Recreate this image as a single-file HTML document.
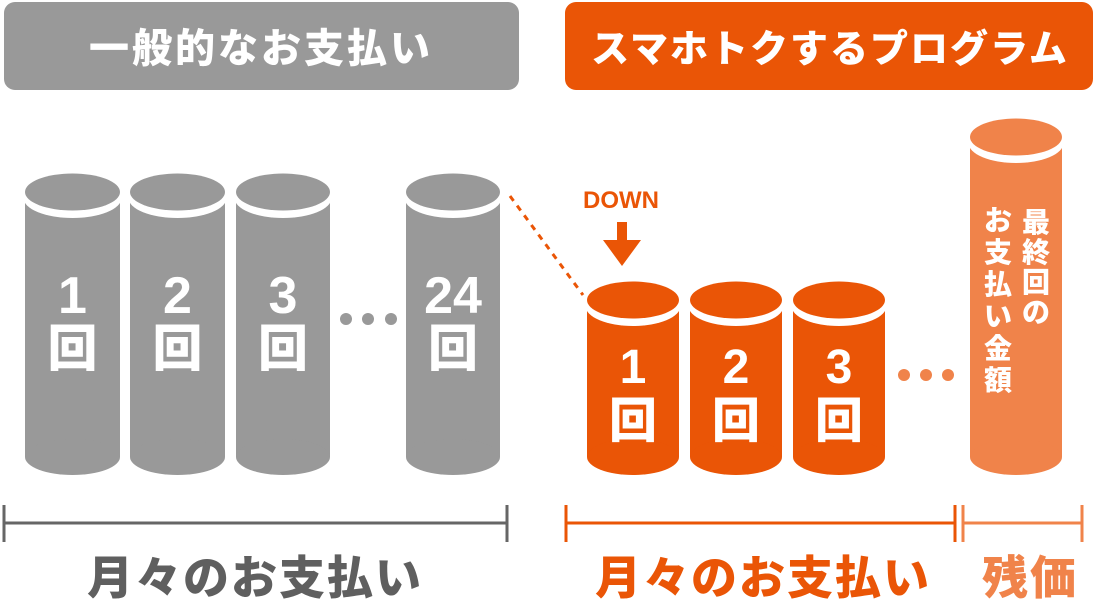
<!DOCTYPE html>
<html><head><meta charset="utf-8"><style>
html,body{margin:0;padding:0;background:#fff;}
svg{display:block;}
text{font-family:"Liberation Sans","Noto Sans CJK JP",sans-serif;font-weight:bold;}
.j{font-family:"Noto Sans CJK JP","Liberation Sans",sans-serif;font-weight:900;}
</style></head><body>
<svg width="1095" height="599" viewBox="0 0 1095 599" xmlns="http://www.w3.org/2000/svg">
<!-- headers -->
<rect x="4" y="2" width="515" height="88" rx="11" fill="#999"/>
<text x="261" y="62" class="j" font-size="40" fill="#fff" text-anchor="middle" letter-spacing="3">一般的なお支払い</text>
<rect x="565" y="2" width="528" height="88" rx="11" fill="#ea5506"/>
<text x="830" y="62" class="j" font-size="38" fill="#fff" text-anchor="middle" letter-spacing="2">スマホトクするプログラム</text>

<!-- gray cylinders -->
<g fill="#999">
  <g>
    <rect x="25" y="197" width="95" height="260"/><ellipse cx="72.5" cy="457" rx="47.5" ry="18"/>
    <ellipse cx="72.5" cy="198" rx="49" ry="20" fill="#fff"/><ellipse cx="72.5" cy="192" rx="47.5" ry="18.5"/>
  </g>
  <g>
    <rect x="130" y="197" width="95" height="260"/><ellipse cx="177.5" cy="457" rx="47.5" ry="18"/>
    <ellipse cx="177.5" cy="198" rx="49" ry="20" fill="#fff"/><ellipse cx="177.5" cy="192" rx="47.5" ry="18.5"/>
  </g>
  <g>
    <rect x="236" y="197" width="94" height="260"/><ellipse cx="283" cy="457" rx="47" ry="18"/>
    <ellipse cx="283" cy="198" rx="48.5" ry="20" fill="#fff"/><ellipse cx="283" cy="192" rx="47" ry="18.5"/>
  </g>
  <g>
    <rect x="406" y="197" width="94" height="260"/><ellipse cx="453" cy="457" rx="47" ry="18"/>
    <ellipse cx="453" cy="198" rx="48.5" ry="20" fill="#fff"/><ellipse cx="453" cy="192" rx="47" ry="18.5"/>
  </g>
  <circle cx="346" cy="319" r="6"/><circle cx="368" cy="319" r="6"/><circle cx="391" cy="319" r="6"/>
</g>
<g fill="#fff" text-anchor="middle">
  <text x="72.5" y="313" font-size="52">1</text><text x="72.5" y="366" class="j" font-size="50">回</text>
  <text x="177.5" y="313" font-size="52">2</text><text x="177.5" y="366" class="j" font-size="50">回</text>
  <text x="283" y="313" font-size="52">3</text><text x="283" y="366" class="j" font-size="50">回</text>
  <text x="453" y="313" font-size="52">24</text><text x="453" y="366" class="j" font-size="50">回</text>
</g>

<!-- dotted connector -->
<line x1="510" y1="196" x2="583" y2="295" stroke="#ea5506" stroke-width="3" stroke-dasharray="6 6"/>

<!-- DOWN -->
<text x="621" y="208" font-size="24" fill="#ea5506" text-anchor="middle">DOWN</text>
<rect x="617" y="222" width="10" height="20" fill="#ea5506"/>
<polygon points="603,240 641,240 622,266" fill="#ea5506"/>

<!-- orange cylinders -->
<g fill="#ea5506">
  <g>
    <rect x="587" y="305" width="92" height="152"/><ellipse cx="633" cy="457" rx="46" ry="18"/>
    <ellipse cx="633" cy="306" rx="47.5" ry="20" fill="#fff"/><ellipse cx="633" cy="300" rx="46" ry="18.5"/>
  </g>
  <g>
    <rect x="690" y="305" width="92" height="152"/><ellipse cx="736" cy="457" rx="46" ry="18"/>
    <ellipse cx="736" cy="306" rx="47.5" ry="20" fill="#fff"/><ellipse cx="736" cy="300" rx="46" ry="18.5"/>
  </g>
  <g>
    <rect x="793" y="305" width="92" height="152"/><ellipse cx="839" cy="457" rx="46" ry="18"/>
    <ellipse cx="839" cy="306" rx="47.5" ry="20" fill="#fff"/><ellipse cx="839" cy="300" rx="46" ry="18.5"/>
  </g>
  <circle cx="904" cy="375" r="6" fill="#f0834a"/><circle cx="926" cy="375" r="6" fill="#f0834a"/><circle cx="948" cy="375" r="6" fill="#f0834a"/>
</g>
<g fill="#fff" text-anchor="middle">
  <text x="633" y="383" font-size="48">1</text><text x="633" y="437" class="j" font-size="48">回</text>
  <text x="736" y="383" font-size="48">2</text><text x="736" y="437" class="j" font-size="48">回</text>
  <text x="839" y="383" font-size="48">3</text><text x="839" y="437" class="j" font-size="48">回</text>
</g>

<!-- tall cylinder -->
<g fill="#f0834a">
  <rect x="970" y="142" width="92" height="315"/><ellipse cx="1016" cy="457" rx="46" ry="18"/>
  <ellipse cx="1016" cy="143" rx="47.5" ry="20" fill="#fff"/><ellipse cx="1016" cy="137" rx="46" ry="18.5"/>
</g>
<g fill="#fff" font-size="28" text-anchor="middle">
  <text x="1036" y="232" class="j">最</text><text x="1036" y="262" class="j">終</text><text x="1036" y="292" class="j">回</text><text x="1036" y="322" class="j">の</text>
  <text x="998" y="230" class="j">お</text><text x="998" y="262" class="j">支</text><text x="998" y="294" class="j">払</text><text x="998" y="326" class="j">い</text><text x="998" y="358" class="j">金</text><text x="998" y="390" class="j">額</text>
</g>

<!-- brackets -->
<g stroke="#666" stroke-width="3">
  <line x1="4" y1="523" x2="507" y2="523"/><line x1="4" y1="505" x2="4" y2="542"/><line x1="507" y1="505" x2="507" y2="542"/>
</g>
<g stroke="#ea5506" stroke-width="3">
  <line x1="566" y1="523" x2="955" y2="523"/><line x1="566" y1="505" x2="566" y2="542"/><line x1="955" y1="505" x2="955" y2="542"/>
</g>
<g stroke="#f0834a" stroke-width="3">
  <line x1="963" y1="523" x2="1082" y2="523"/><line x1="963" y1="505" x2="963" y2="542"/><line x1="1082" y1="505" x2="1082" y2="542"/>
</g>
<text x="255" y="594" class="j" font-size="46" fill="#5f5f5f" text-anchor="middle" letter-spacing="2">月々のお支払い</text>
<text x="763" y="594" class="j" font-size="46" fill="#ea5506" text-anchor="middle" letter-spacing="2">月々のお支払い</text>
<text x="1030" y="594" class="j" font-size="46" fill="#f0834a" text-anchor="middle" letter-spacing="2">残価</text>
</svg>
</body></html>
